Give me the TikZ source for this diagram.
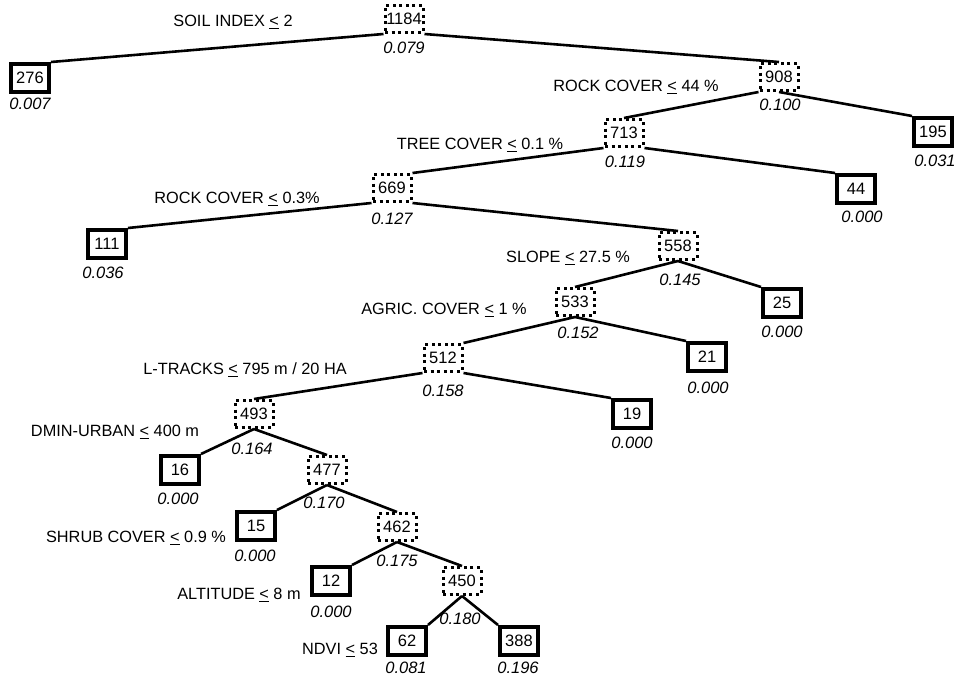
\documentclass[tikz,border=0pt]{standalone}
\usepackage{fontspec}
\setmainfont{Liberation Sans}
\newcommand\lte{\underline{<}}
\begin{document}
\begin{tikzpicture}[x=1pt,y=-1pt,
 innerbox/.style={draw, line width=3pt, dash pattern=on 3pt off 3.6pt, fill=white, minimum width=38pt, minimum height=27pt, inner sep=0pt, font=\fontsize{16.5}{16.5}\selectfont},
 leafbox/.style={draw, line width=4pt, fill=white, minimum width=38pt, minimum height=28pt, inner sep=0pt, font=\fontsize{16.5}{16.5}\selectfont},
 val/.style={font=\fontsize{16.5}{16.5}\selectfont\itshape, inner sep=0pt},
 lab/.style={font=\fontsize{16.3}{16.3}\selectfont, inner sep=0pt},
 edge/.style={line width=2.6pt}]
\useasboundingbox (0,0) rectangle (959,681);
% internal nodes
\node[innerbox] (n1184) at (404,19) {1184};
\node[innerbox] (n908) at (779,77) {908};
\node[innerbox] (n713) at (624,133) {713};
\node[innerbox] (n669) at (392,188) {669};
\node[innerbox] (n558) at (678,246) {558};
\node[innerbox] (n533) at (575,302) {533};
\node[innerbox] (n512) at (443,358) {512};
\node[innerbox] (n493) at (254,414) {493};
\node[innerbox] (n477) at (327,470) {477};
\node[innerbox] (n462) at (397,527) {462};
\node[innerbox] (n450) at (462,581) {450};
% leaves
\node[leafbox] (n276) at (30,78) {276};
\node[leafbox] (n195) at (933,132) {195};
\node[leafbox] (n44) at (856,189) {44};
\node[leafbox] (n111) at (107,244) {111};
\node[leafbox] (n25) at (782,303) {25};
\node[leafbox] (n21) at (707,357) {21};
\node[leafbox] (n19) at (632,414) {19};
\node[leafbox] (n16) at (180,470) {16};
\node[leafbox] (n15) at (256,526) {15};
\node[leafbox] (n12) at (331,581) {12};
\node[leafbox] (n62) at (407,641) {62};
\node[leafbox] (n388) at (519,641) {388};
% edges
\draw[edge] (n1184.south west) -- (n276.north east);
\draw[edge] (n1184.south east) -- (n908.north);
\draw[edge] (n908.south west) -- (n713.north);
\draw[edge] (n908.south) -- (n195.north west);
\draw[edge] (n713.south west) -- (n669.north east);
\draw[edge] (n713.south east) -- (n44.north west);
\draw[edge] (n669.south west) -- (n111.north east);
\draw[edge] (n669.south east) -- (n558.north);
\draw[edge] (n558.south) -- (n533.north);
\draw[edge] (n558.south) -- (n25.north west);
\draw[edge] (n533.south) -- (n512.north east);
\draw[edge] (n533.south) -- (n21.north west);
\draw[edge] (n512.south west) -- (n493.north);
\draw[edge] (n512.south east) -- (n19.north west);
\draw[edge] (n493.south) -- (n16.north east);
\draw[edge] (n493.south) -- (n477.north);
\draw[edge] (n477.south) -- (n15.north east);
\draw[edge] (n477.south) -- (n462.north);
\draw[edge] (n462.south) -- (n12.north east);
\draw[edge] (n462.south) -- (n450.north);
\draw[edge] (n450.south) -- (n62.north east);
\draw[edge] (n450.south) -- (n388.north west);
% values
\node[val] (v1184) at (404,48) {0.079};
\node[val] (v908) at (780,105) {0.100};
\node[val] (v713) at (625,162) {0.119};
\node[val] (v669) at (392,219) {0.127};
\node[val] (v558) at (680,280) {0.145};
\node[val] (v533) at (578,333) {0.152};
\node[val] (v512) at (443,391) {0.158};
\node[val] (v493) at (252,449) {0.164};
\node[val] (v477) at (324,503) {0.170};
\node[val] (v462) at (397,561) {0.175};
\node[val] (v450) at (460,619) {0.180};
\node[val] (v276) at (30,104) {0.007};
\node[val] (v195) at (935,161) {0.031};
\node[val] (v44) at (862,217) {0.000};
\node[val] (v111) at (103,273) {0.036};
\node[val] (v25) at (782,332) {0.000};
\node[val] (v21) at (708,388) {0.000};
\node[val] (v19) at (632,443) {0.000};
\node[val] (v16) at (178,499) {0.000};
\node[val] (v15) at (255,556) {0.000};
\node[val] (v12) at (331,612) {0.000};
\node[val] (v62) at (406,668) {0.081};
\node[val] (v388) at (518,668) {0.196};
% split labels
\node[lab] (l1) at (233,22) {SOIL INDEX \lte{} 2};
\node[lab] (l2) at (636,87) {ROCK COVER \lte{} 44 \%};
\node[lab] (l3) at (480,145) {TREE COVER \lte{} 0.1 \%};
\node[lab] (l4) at (237,199) {ROCK COVER \lte{} 0.3\%};
\node[lab] (l5) at (568,258) {SLOPE \lte{} 27.5 \%};
\node[lab] (l6) at (444,310) {AGRIC. COVER \lte{} 1 \%};
\node[lab] (l7) at (245,370) {L-TRACKS \lte{} 795 m / 20 HA};
\node[lab] (l8) at (115,432) {DMIN-URBAN \lte{} 400 m};
\node[lab] (l9) at (136,538) {SHRUB COVER \lte{} 0.9 \%};
\node[lab] (l10) at (239,595) {ALTITUDE \lte{} 8 m};
\node[lab] (l11) at (340,650) {NDVI \lte{} 53};
\end{tikzpicture}
\end{document}
